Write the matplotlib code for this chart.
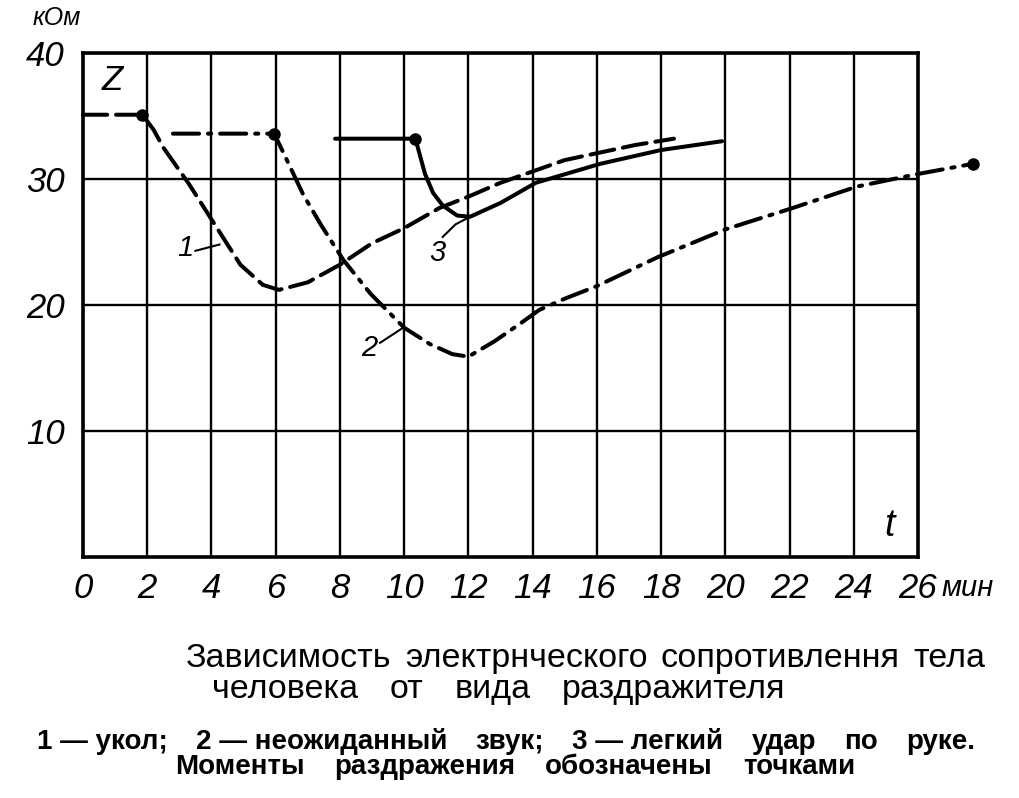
import matplotlib
matplotlib.use('Agg')
import matplotlib.pyplot as plt
from matplotlib.transforms import IdentityTransform

# ---------------- data ----------------
x_ticks = [0, 2, 4, 6, 8, 10, 12, 14, 16, 18, 20, 22, 24, 26]
x_tick_labels = ['0', '2', '4', '6', '8', '10', '12', '14', '16', '18', '20', '22', '24', '26']
y_ticks = [10, 20, 30, 40]
y_tick_labels = ['10', '20', '30', '40']

# curve 1 - укол (dashed)
c1_t = [0.0, 1.85, 2.2, 2.5, 3.3, 3.9, 4.3, 4.9, 5.6, 6.1, 7.0, 8.0, 9.0, 10.0,
        11.1, 12.0, 13.0, 14.0, 15.0, 16.1, 17.2, 18.4]
c1_z = [35.1, 35.1, 33.9, 32.5, 29.6, 27.2, 25.6, 23.2, 21.6, 21.2, 21.8, 23.2, 24.9, 26.1,
        27.7, 28.6, 29.7, 30.6, 31.5, 32.1, 32.7, 33.2]

# curve 2 - неожиданный звук (dash-dot)
c2_t = [2.8, 4.0, 5.95, 6.2, 6.85, 7.4, 8.1, 8.95, 10.0, 10.8, 11.5, 12.0, 12.8, 13.6,
        14.2, 15.0, 16.0, 17.9, 20.0, 22.1, 24.1, 26.0, 27.7]
c2_z = [33.6, 33.6, 33.6, 32.3, 28.8, 26.4, 23.6, 20.9, 18.2, 16.9, 16.1, 15.9, 17.1, 18.5,
        19.6, 20.5, 21.5, 23.8, 26.0, 27.7, 29.4, 30.4, 31.2]

# curve 3 - легкий удар по руке (solid)
c3_t = [7.85, 10.35, 10.5, 10.65, 10.9, 11.2, 11.65, 12.05, 13.0, 14.1, 16.1, 18.0, 19.9]
c3_z = [33.2, 33.2, 31.8, 30.4, 28.9, 27.9, 27.1, 27.0, 28.1, 29.7, 31.2, 32.3, 33.0]

# moments of stimulation (dots)
dot_t = [1.85, 5.95, 10.35, 27.7]
dot_z = [35.1, 33.6, 33.2, 31.2]

W, H = 1019, 798
SANS = ['Liberation Sans', 'DejaVu Sans']

fig = plt.figure(figsize=(W / 100, H / 100), dpi=100)
ax = fig.add_axes([83 / W, 1 - 557 / H, (918 - 83) / W, (557 - 53) / H])
ax.set_xlim(0, 26)
ax.set_ylim(0, 40)

for s in ax.spines.values():
    s.set_linewidth(2.6)
    s.set_color('black')

ax.set_xticks(x_ticks)
ax.set_yticks(y_ticks)
ax.grid(True, color='black', linewidth=1.7)
ax.tick_params(length=0)
ax.set_xticklabels(x_tick_labels, fontsize=25, fontstyle='italic', family=SANS)
ax.set_yticklabels(y_tick_labels, fontsize=25, fontstyle='italic', family=SANS)
ax.tick_params(axis='x', pad=11)
ax.tick_params(axis='y', pad=13)

lw = 2.9
ax.plot(c1_t, c1_z, color='black', lw=lw, linestyle=(0, (6, 2.2)), clip_on=False,
        solid_capstyle='round', dash_capstyle='round')
ax.plot(c2_t, c2_z, color='black', lw=lw, linestyle=(0, (6.5, 2.2, 0.8, 2.2)), clip_on=False,
        dash_capstyle='round')
ax.plot(c3_t, c3_z, color='black', lw=lw, linestyle='-', clip_on=False,
        solid_capstyle='round')
ax.plot(dot_t, dot_z, 'o', color='black', markersize=8, clip_on=False)

# curve labels with leaders
ax.text(3.2, 24.5, '1', fontsize=21, fontstyle='italic', family=SANS, ha='center', va='center')
ax.plot([3.5, 4.25], [24.3, 24.8], color='black', lw=1.5)
ax.text(8.9, 16.6, '2', fontsize=21, fontstyle='italic', family=SANS, ha='center', va='center')
ax.plot([9.25, 9.97], [17.0, 18.2], color='black', lw=1.5)
ax.text(11.05, 24.1, '3', fontsize=21, fontstyle='italic', family=SANS, ha='center', va='center')
ax.plot([11.2, 11.6, 12.05], [25.4, 26.4, 27.0], color='black', lw=1.5)

ax.text(0.9, 37.8, 'Z', fontsize=25, fontstyle='italic', family=SANS, ha='center', va='center')
ax.text(25.1, 2.5, 't', fontsize=27, fontstyle='italic', family=SANS, ha='center', va='center')

fig.text(33 / W, 1 - 18 / H, 'кОм', fontsize=18, fontstyle='italic', family=SANS,
         ha='left', va='center')
fig.text(942 / W, 1 - 588 / H, 'мин', fontsize=21, fontstyle='italic', family=SANS,
         ha='left', va='center')

# ---------------- caption ----------------
renderer = fig.canvas.get_renderer()
ident = IdentityTransform()


def justify(words, x0, x1, base, **kw):
    texts = [fig.text(0, 0, w, transform=ident, ha='left', va='baseline', **kw) for w in words]
    widths = [t.get_window_extent(renderer).width for t in texts]
    gap = (x1 - x0 - sum(widths)) / max(len(words) - 1, 1)
    x = x0
    for t, w in zip(texts, widths):
        t.set_position((x, H - base))
        x += w + gap


cap1 = 'Зависимость электрнческого сопротивлення тела'
cap2 = 'человека от вида раздражителя'
cap4 = 'Моменты раздражения обозначены точками'

justify(cap1.split(), 186, 985, 667, fontsize=24.5, family=SANS)
justify(cap2.split(), 212, 785, 698, fontsize=24.5, family=SANS)
justify(['1 — укол;', '2 — неожиданный', 'звук;', '3 — легкий', 'удар', 'по', 'руке.'],
        37, 975, 749, fontsize=20, family=SANS, fontweight='bold')
justify(cap4.split(), 175, 855, 774, fontsize=20, family=SANS, fontweight='bold')

fig.savefig('out.png', dpi=100)
